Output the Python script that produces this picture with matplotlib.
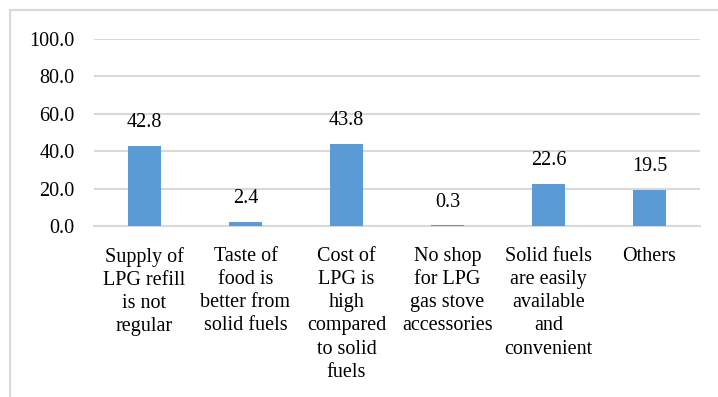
import matplotlib
matplotlib.use('Agg')
from matplotlib import pyplot as plt
from matplotlib.patches import Rectangle
import numpy as np

# reasons for not using LPG regularly (% of households)
reasons = ['Supply of\nLPG refill\nis not\nregular',
           'Taste of\nfood is\nbetter from\nsolid fuels',
           'Cost of\nLPG is\nhigh\ncompared\nto solid\nfuels',
           'No shop\nfor LPG\ngas stove\naccessories',
           'Solid fuels\nare easily\navailable\nand\nconvenient',
           'Others']
percent = [42.8, 2.4, 43.8, 0.3, 22.6, 19.5]
yticks = [0, 20, 40, 60, 80, 100]

plt.rcParams['font.family'] = 'serif'
plt.rcParams['font.serif'] = ['Liberation Serif', 'DejaVu Serif']
fsize = 14.5
bar_color = '#5B9BD5'
grid_color = '#D9D9D9'

fig = plt.figure(figsize=(7.18, 3.97), dpi=100)
ax = fig.add_axes([94/718, 1 - 226/397, 606/718, 187/397])

x = np.arange(len(reasons))
bars = ax.bar(x, percent, width=0.32, color=bar_color, zorder=3)

for xi, val in zip(x, percent):
    ax.annotate('%.1f' % val, (xi, val), xytext=(0, 10), textcoords='offset points',
                ha='center', va='bottom', fontsize=fsize)

ax.set_ylim(0, 100)
ax.set_xlim(-0.5, len(reasons) - 0.5)
ax.set_yticks(yticks)
ax.set_yticklabels(['%.1f' % t for t in yticks], fontsize=fsize)
ax.set_xticks(x)
ax.set_xticklabels(reasons, fontsize=fsize, linespacing=1.3, va='top')
ax.tick_params(axis='both', length=0)
ax.tick_params(axis='y', pad=14)
ax.tick_params(axis='x', pad=15)

ax.yaxis.grid(True, color=grid_color, linewidth=1.5, zorder=0)
for side in ['left', 'right', 'top']:
    ax.spines[side].set_visible(False)
ax.spines['bottom'].set_color(grid_color)
ax.spines['bottom'].set_linewidth(1.5)

# light frame around the chart area
fig.patches.append(Rectangle((10/718, -0.1), 1.2, 1 - 10/397 + 0.1,
                             transform=fig.transFigure, fill=False,
                             edgecolor=grid_color, linewidth=1.5))

fig.savefig('out.png', dpi=100)
